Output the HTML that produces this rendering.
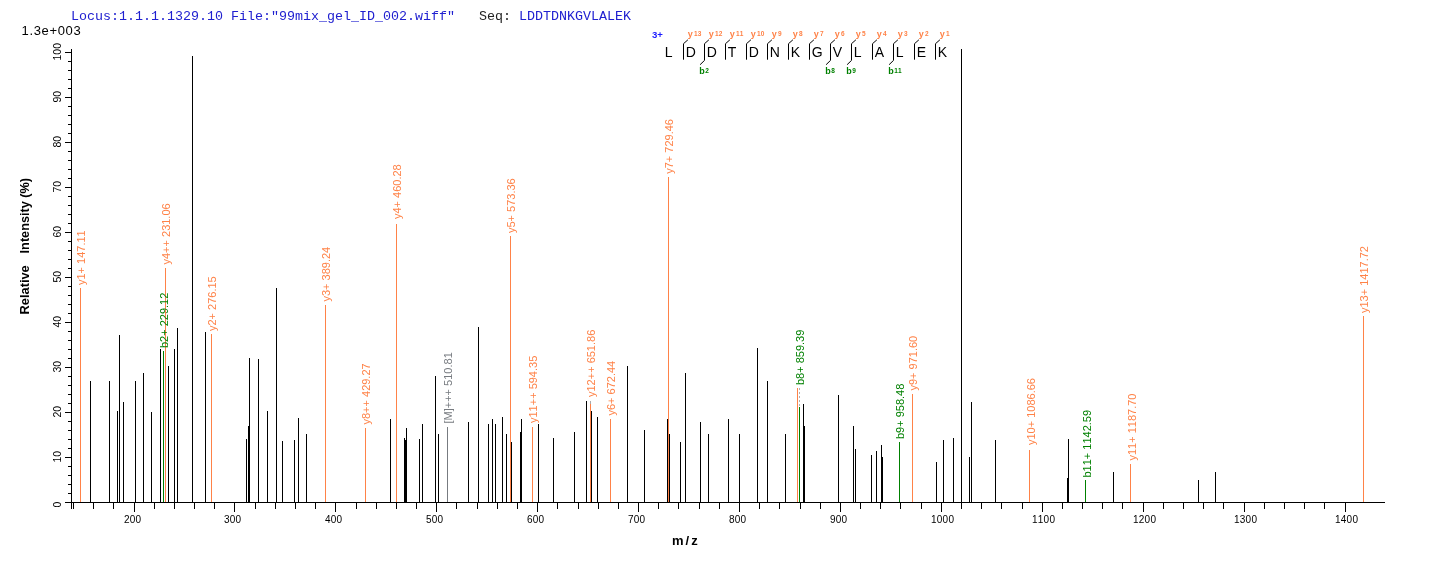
<!DOCTYPE html>
<html lang="en"><head><meta charset="utf-8"><title>Spectrum</title>
<style>html,body{margin:0;padding:0;background:#fff;overflow:hidden}svg{display:block}text{font-family:"Liberation Sans",Arial,sans-serif;font-kerning:none}.mono{font-family:"Liberation Mono","Courier New",monospace;font-size:13.333px}.pk rect{shape-rendering:crispEdges}.ax{shape-rendering:crispEdges}.lb text{font-size:11px}.xt text{font-size:10px;letter-spacing:0.3px}.yt text{font-size:10.5px;text-anchor:middle}.aa text{font-size:14px}.yi text{font-size:9px;font-weight:bold;fill:#ff8247}.bi text{font-size:9px;font-weight:bold;fill:#008000}.yi tspan,.bi tspan{font-size:6.5px}</style></head><body>
<svg width="1436" height="562" viewBox="0 0 1436 562">
<rect width="1436" height="562" fill="#fff"/>
<text class="mono" x="71" y="19.5" fill="#2020d0" xml:space="preserve">Locus:1.1.1.1329.10 File:"99mix_gel_ID_002.wiff"   <tspan fill="#222">Seq:</tspan> LDDTDNKGVLALEK</text>
<text x="21.5" y="35" font-size="13px" letter-spacing="0.65">1.3e+003</text>
<g class="pk" fill="#000">
<rect x="90" y="381" width="1" height="121"/>
<rect x="109" y="381" width="1" height="121"/>
<rect x="117" y="411" width="1" height="91"/>
<rect x="119" y="335" width="1" height="167"/>
<rect x="123" y="402" width="1" height="100"/>
<rect x="135" y="381" width="1" height="121"/>
<rect x="143" y="373" width="1" height="129"/>
<rect x="151" y="412" width="1" height="90"/>
<rect x="160" y="349" width="1" height="153"/>
<rect x="168" y="366" width="1" height="136"/>
<rect x="174" y="349" width="1" height="153"/>
<rect x="177" y="328" width="1" height="174"/>
<rect x="192" y="56" width="1" height="446"/>
<rect x="205" y="332" width="1" height="170"/>
<rect x="246" y="439" width="1" height="63"/>
<rect x="248" y="426" width="1" height="76"/>
<rect x="249" y="358" width="1" height="144"/>
<rect x="258" y="359" width="1" height="143"/>
<rect x="267" y="411" width="1" height="91"/>
<rect x="276" y="288" width="1" height="214"/>
<rect x="282" y="441" width="1" height="61"/>
<rect x="294" y="440" width="1" height="62"/>
<rect x="298" y="418" width="1" height="84"/>
<rect x="306" y="434" width="1" height="68"/>
<rect x="390" y="419" width="1" height="83"/>
<rect x="404" y="438" width="1" height="64"/>
<rect x="405" y="440" width="1" height="62"/>
<rect x="406" y="428" width="1" height="74"/>
<rect x="419" y="439" width="1" height="63"/>
<rect x="422" y="424" width="1" height="78"/>
<rect x="435" y="376" width="1" height="126"/>
<rect x="438" y="434" width="1" height="68"/>
<rect x="468" y="422" width="1" height="80"/>
<rect x="478" y="327" width="1" height="175"/>
<rect x="488" y="424" width="1" height="78"/>
<rect x="492" y="419" width="1" height="83"/>
<rect x="495" y="424" width="1" height="78"/>
<rect x="502" y="417" width="1" height="85"/>
<rect x="506" y="434" width="1" height="68"/>
<rect x="511" y="442" width="1" height="60"/>
<rect x="520" y="432" width="1" height="70"/>
<rect x="521" y="419" width="1" height="83"/>
<rect x="538" y="424" width="1" height="78"/>
<rect x="553" y="438" width="1" height="64"/>
<rect x="574" y="432" width="1" height="70"/>
<rect x="586" y="401" width="1" height="101"/>
<rect x="591" y="411" width="1" height="91"/>
<rect x="597" y="417" width="1" height="85"/>
<rect x="627" y="366" width="1" height="136"/>
<rect x="644" y="430" width="1" height="72"/>
<rect x="667" y="419" width="1" height="83"/>
<rect x="669" y="434" width="1" height="68"/>
<rect x="680" y="442" width="1" height="60"/>
<rect x="685" y="373" width="1" height="129"/>
<rect x="700" y="422" width="1" height="80"/>
<rect x="708" y="434" width="1" height="68"/>
<rect x="728" y="419" width="1" height="83"/>
<rect x="739" y="434" width="1" height="68"/>
<rect x="757" y="348" width="1" height="154"/>
<rect x="767" y="381" width="1" height="121"/>
<rect x="785" y="434" width="1" height="68"/>
<rect x="803" y="404" width="1" height="98"/>
<rect x="804" y="426" width="1" height="76"/>
<rect x="838" y="395" width="1" height="107"/>
<rect x="853" y="426" width="1" height="76"/>
<rect x="855" y="449" width="1" height="53"/>
<rect x="871" y="455" width="1" height="47"/>
<rect x="876" y="451" width="1" height="51"/>
<rect x="881" y="445" width="1" height="57"/>
<rect x="882" y="457" width="1" height="45"/>
<rect x="936" y="462" width="1" height="40"/>
<rect x="943" y="440" width="1" height="62"/>
<rect x="953" y="438" width="1" height="64"/>
<rect x="961" y="49" width="1" height="453"/>
<rect x="969" y="457" width="1" height="45"/>
<rect x="971" y="402" width="1" height="100"/>
<rect x="995" y="440" width="1" height="62"/>
<rect x="1067" y="478" width="1" height="24"/>
<rect x="1068" y="439" width="1" height="63"/>
<rect x="1113" y="472" width="1" height="30"/>
<rect x="1198" y="480" width="1" height="22"/>
<rect x="1215" y="472" width="1" height="30"/>
</g>
<g class="pk" fill="#777b80">
<rect x="447" y="427" width="1" height="75"/>
</g>
<g class="pk" fill="#008000">
<rect x="163" y="351" width="1" height="151"/>
<rect x="799" y="407" width="1" height="95"/>
<rect x="899" y="442" width="1" height="60"/>
<rect x="1085" y="480" width="1" height="22"/>
</g>
<g class="pk" fill="#ff8247">
<rect x="80" y="288" width="1" height="214"/>
<rect x="165" y="268" width="1" height="234"/>
<rect x="211" y="334" width="1" height="168"/>
<rect x="325" y="305" width="1" height="197"/>
<rect x="365" y="428" width="1" height="74"/>
<rect x="396" y="224" width="1" height="278"/>
<rect x="510" y="236" width="1" height="266"/>
<rect x="532" y="427" width="1" height="75"/>
<rect x="590" y="404" width="1" height="98"/>
<rect x="610" y="419" width="1" height="83"/>
<rect x="668" y="177" width="1" height="325"/>
<rect x="797" y="388" width="1" height="114"/>
<rect x="912" y="394" width="1" height="108"/>
<rect x="1029" y="450" width="1" height="52"/>
<rect x="1130" y="464" width="1" height="38"/>
<rect x="1363" y="316" width="1" height="186"/>
</g>
<rect x="590" y="401" width="1" height="3" fill="#aaa" class="ax"/>
<line x1="799.5" y1="388" x2="799.5" y2="407" stroke="#b0b0b0" stroke-width="1" stroke-dasharray="2,2" class="ax"/>
<g class="ax" fill="#000">
<rect x="65" y="502" width="1320" height="1"/>
<rect x="71" y="49" width="1" height="454"/>
<rect x="65" y="502" width="6" height="1"/>
<rect x="68" y="493" width="3" height="1"/>
<rect x="68" y="484" width="3" height="1"/>
<rect x="68" y="475" width="3" height="1"/>
<rect x="68" y="466" width="3" height="1"/>
<rect x="65" y="457" width="6" height="1"/>
<rect x="68" y="448" width="3" height="1"/>
<rect x="68" y="439" width="3" height="1"/>
<rect x="68" y="430" width="3" height="1"/>
<rect x="68" y="421" width="3" height="1"/>
<rect x="65" y="412" width="6" height="1"/>
<rect x="68" y="403" width="3" height="1"/>
<rect x="68" y="394" width="3" height="1"/>
<rect x="68" y="385" width="3" height="1"/>
<rect x="68" y="376" width="3" height="1"/>
<rect x="65" y="367" width="6" height="1"/>
<rect x="68" y="358" width="3" height="1"/>
<rect x="68" y="349" width="3" height="1"/>
<rect x="68" y="340" width="3" height="1"/>
<rect x="68" y="331" width="3" height="1"/>
<rect x="65" y="322" width="6" height="1"/>
<rect x="68" y="313" width="3" height="1"/>
<rect x="68" y="304" width="3" height="1"/>
<rect x="68" y="295" width="3" height="1"/>
<rect x="68" y="286" width="3" height="1"/>
<rect x="65" y="277" width="6" height="1"/>
<rect x="68" y="268" width="3" height="1"/>
<rect x="68" y="259" width="3" height="1"/>
<rect x="68" y="250" width="3" height="1"/>
<rect x="68" y="241" width="3" height="1"/>
<rect x="65" y="232" width="6" height="1"/>
<rect x="68" y="223" width="3" height="1"/>
<rect x="68" y="214" width="3" height="1"/>
<rect x="68" y="205" width="3" height="1"/>
<rect x="68" y="196" width="3" height="1"/>
<rect x="65" y="187" width="6" height="1"/>
<rect x="68" y="178" width="3" height="1"/>
<rect x="68" y="169" width="3" height="1"/>
<rect x="68" y="160" width="3" height="1"/>
<rect x="68" y="151" width="3" height="1"/>
<rect x="65" y="142" width="6" height="1"/>
<rect x="68" y="133" width="3" height="1"/>
<rect x="68" y="124" width="3" height="1"/>
<rect x="68" y="115" width="3" height="1"/>
<rect x="68" y="106" width="3" height="1"/>
<rect x="65" y="97" width="6" height="1"/>
<rect x="68" y="88" width="3" height="1"/>
<rect x="68" y="79" width="3" height="1"/>
<rect x="68" y="70" width="3" height="1"/>
<rect x="68" y="61" width="3" height="1"/>
<rect x="65" y="52" width="6" height="1"/>
<rect x="71" y="502" width="1" height="7"/>
<rect x="73" y="502" width="1" height="7"/>
<rect x="93" y="502" width="1" height="7"/>
<rect x="113" y="502" width="1" height="7"/>
<rect x="134" y="502" width="1" height="10"/>
<rect x="154" y="502" width="1" height="7"/>
<rect x="174" y="502" width="1" height="7"/>
<rect x="194" y="502" width="1" height="7"/>
<rect x="214" y="502" width="1" height="7"/>
<rect x="234" y="502" width="1" height="10"/>
<rect x="255" y="502" width="1" height="7"/>
<rect x="275" y="502" width="1" height="7"/>
<rect x="295" y="502" width="1" height="7"/>
<rect x="315" y="502" width="1" height="7"/>
<rect x="335" y="502" width="1" height="10"/>
<rect x="356" y="502" width="1" height="7"/>
<rect x="376" y="502" width="1" height="7"/>
<rect x="396" y="502" width="1" height="7"/>
<rect x="416" y="502" width="1" height="7"/>
<rect x="436" y="502" width="1" height="10"/>
<rect x="456" y="502" width="1" height="7"/>
<rect x="477" y="502" width="1" height="7"/>
<rect x="497" y="502" width="1" height="7"/>
<rect x="517" y="502" width="1" height="7"/>
<rect x="537" y="502" width="1" height="10"/>
<rect x="557" y="502" width="1" height="7"/>
<rect x="578" y="502" width="1" height="7"/>
<rect x="598" y="502" width="1" height="7"/>
<rect x="618" y="502" width="1" height="7"/>
<rect x="638" y="502" width="1" height="10"/>
<rect x="658" y="502" width="1" height="7"/>
<rect x="678" y="502" width="1" height="7"/>
<rect x="699" y="502" width="1" height="7"/>
<rect x="719" y="502" width="1" height="7"/>
<rect x="739" y="502" width="1" height="10"/>
<rect x="759" y="502" width="1" height="7"/>
<rect x="779" y="502" width="1" height="7"/>
<rect x="800" y="502" width="1" height="7"/>
<rect x="820" y="502" width="1" height="7"/>
<rect x="840" y="502" width="1" height="10"/>
<rect x="860" y="502" width="1" height="7"/>
<rect x="880" y="502" width="1" height="7"/>
<rect x="900" y="502" width="1" height="7"/>
<rect x="921" y="502" width="1" height="7"/>
<rect x="941" y="502" width="1" height="10"/>
<rect x="961" y="502" width="1" height="7"/>
<rect x="981" y="502" width="1" height="7"/>
<rect x="1001" y="502" width="1" height="7"/>
<rect x="1022" y="502" width="1" height="7"/>
<rect x="1042" y="502" width="1" height="10"/>
<rect x="1062" y="502" width="1" height="7"/>
<rect x="1082" y="502" width="1" height="7"/>
<rect x="1102" y="502" width="1" height="7"/>
<rect x="1122" y="502" width="1" height="7"/>
<rect x="1143" y="502" width="1" height="10"/>
<rect x="1163" y="502" width="1" height="7"/>
<rect x="1183" y="502" width="1" height="7"/>
<rect x="1203" y="502" width="1" height="7"/>
<rect x="1223" y="502" width="1" height="7"/>
<rect x="1244" y="502" width="1" height="10"/>
<rect x="1264" y="502" width="1" height="7"/>
<rect x="1284" y="502" width="1" height="7"/>
<rect x="1304" y="502" width="1" height="7"/>
<rect x="1324" y="502" width="1" height="7"/>
<rect x="1345" y="502" width="1" height="10"/>
</g>
<g class="xt">
<text x="123.9" y="522.6">200</text>
<text x="223.9" y="522.6">300</text>
<text x="324.9" y="522.6">400</text>
<text x="425.9" y="522.6">500</text>
<text x="526.9" y="522.6">600</text>
<text x="627.9" y="522.6">700</text>
<text x="728.9" y="522.6">800</text>
<text x="829.9" y="522.6">900</text>
<text x="930.9" y="522.6">1000</text>
<text x="1031.9" y="522.6">1100</text>
<text x="1132.9" y="522.6">1200</text>
<text x="1233.9" y="522.6">1300</text>
<text x="1334.9" y="522.6">1400</text>
</g>
<g class="yt">
<text transform="translate(60.8,504.5) rotate(-90)">0</text>
<text transform="translate(60.8,456.7) rotate(-90)">10</text>
<text transform="translate(60.8,411.7) rotate(-90)">20</text>
<text transform="translate(60.8,366.7) rotate(-90)">30</text>
<text transform="translate(60.8,321.7) rotate(-90)">40</text>
<text transform="translate(60.8,276.7) rotate(-90)">50</text>
<text transform="translate(60.8,231.7) rotate(-90)">60</text>
<text transform="translate(60.8,186.7) rotate(-90)">70</text>
<text transform="translate(60.8,141.7) rotate(-90)">80</text>
<text transform="translate(60.8,96.7) rotate(-90)">90</text>
<text transform="translate(60.8,51.7) rotate(-90)">100</text>
</g>
<text transform="translate(28.6,314.4) rotate(-90)" font-size="12.8px" font-weight="bold">Relative</text>
<text transform="translate(28.6,253.4) rotate(-90)" font-size="12.7px" font-weight="bold">Intensity (%)</text>
<text x="672" y="544.5" font-size="13px" font-weight="bold" letter-spacing="2">m/z</text>
<g class="lb">
<text transform="translate(85.3,285.0) rotate(-90)" fill="#ff8247">y1+ 147.11</text>
<text transform="translate(168.3,348.0) rotate(-90)" fill="#008000">b2+ 229.12</text>
<text transform="translate(170.3,264.5) rotate(-90)" fill="#ff8247">y4++ 231.06</text>
<text transform="translate(216.3,331.0) rotate(-90)" fill="#ff8247">y2+ 276.15</text>
<text transform="translate(330.3,301.5) rotate(-90)" fill="#ff8247">y3+ 389.24</text>
<text transform="translate(370.3,424.5) rotate(-90)" fill="#ff8247">y8++ 429.27</text>
<text transform="translate(401.3,219.0) rotate(-90)" fill="#ff8247">y4+ 460.28</text>
<text transform="translate(452.3,423.5) rotate(-90)" fill="#777b80">[M]+++ 510.81</text>
<text transform="translate(515.3,233.0) rotate(-90)" fill="#ff8247">y5+ 573.36</text>
<text transform="translate(537.3,423.0) rotate(-90)" fill="#ff8247">y11++ 594.35</text>
<text transform="translate(595.3,397.0) rotate(-90)" fill="#ff8247">y12++ 651.86</text>
<text transform="translate(615.3,415.5) rotate(-90)" fill="#ff8247">y6+ 672.44</text>
<text transform="translate(673.3,173.8) rotate(-90)" fill="#ff8247">y7+ 729.46</text>
<text transform="translate(804.3,385.0) rotate(-90)" fill="#008000">b8+ 859.39</text>
<text transform="translate(904.3,439.0) rotate(-90)" fill="#008000">b9+ 958.48</text>
<text transform="translate(917.3,390.5) rotate(-90)" fill="#ff8247">y9+ 971.60</text>
<text transform="translate(1035.3,445.0) rotate(-90)" fill="#ff8247">y10+ 1086.66</text>
<text transform="translate(1090.5,477.5) rotate(-90)" fill="#008000">b11+ 1142.59</text>
<text transform="translate(1136.0,460.5) rotate(-90)" fill="#ff8247">y11+ 1187.70</text>
<text transform="translate(1368.3,313.0) rotate(-90)" fill="#ff8247">y13+ 1417.72</text>
</g>
<text x="652" y="37.5" font-size="9.6px" font-weight="bold" fill="#1a1aff">3+</text>
<g class="aa">
<text x="664.7" y="57">L</text>
<text x="685.7" y="57">D</text>
<text x="706.7" y="57">D</text>
<text x="727.7" y="57">T</text>
<text x="748.7" y="57">D</text>
<text x="769.7" y="57">N</text>
<text x="790.7" y="57">K</text>
<text x="811.7" y="57">G</text>
<text x="832.7" y="57">V</text>
<text x="853.7" y="57">L</text>
<text x="874.7" y="57">A</text>
<text x="895.7" y="57">L</text>
<text x="916.7" y="57">E</text>
<text x="937.7" y="57">K</text>
</g>
<g fill="none" stroke="#000" stroke-width="1">
<path d="M687.9 39.8 L683.5 43.7 L683.5 59.7"/>
<path d="M708.9 39.8 L704.5 43.7 L704.5 60.4 L700.1 64.7"/>
<path d="M729.9 39.8 L725.5 43.7 L725.5 59.7"/>
<path d="M750.9 39.8 L746.5 43.7 L746.5 59.7"/>
<path d="M771.9 39.8 L767.5 43.7 L767.5 59.7"/>
<path d="M792.9 39.8 L788.5 43.7 L788.5 59.7"/>
<path d="M813.9 39.8 L809.5 43.7 L809.5 59.7"/>
<path d="M834.9 39.8 L830.5 43.7 L830.5 60.4 L826.1 64.7"/>
<path d="M855.9 39.8 L851.5 43.7 L851.5 60.4 L847.1 64.7"/>
<path d="M876.9 39.8 L872.5 43.7 L872.5 59.7"/>
<path d="M897.9 39.8 L893.5 43.7 L893.5 60.4 L889.1 64.7"/>
<path d="M918.9 39.8 L914.5 43.7 L914.5 59.7"/>
<path d="M939.9 39.8 L935.5 43.7 L935.5 59.7"/>
</g>
<g class="yi">
<text x="687.8" y="37">y<tspan dx="1.2" dy="-1.2">13</tspan></text>
<text x="708.8" y="37">y<tspan dx="1.2" dy="-1.2">12</tspan></text>
<text x="729.8" y="37">y<tspan dx="1.2" dy="-1.2">11</tspan></text>
<text x="750.8" y="37">y<tspan dx="1.2" dy="-1.2">10</tspan></text>
<text x="771.8" y="37">y<tspan dx="1.2" dy="-1.2">9</tspan></text>
<text x="792.8" y="37">y<tspan dx="1.2" dy="-1.2">8</tspan></text>
<text x="813.8" y="37">y<tspan dx="1.2" dy="-1.2">7</tspan></text>
<text x="834.8" y="37">y<tspan dx="1.2" dy="-1.2">6</tspan></text>
<text x="855.8" y="37">y<tspan dx="1.2" dy="-1.2">5</tspan></text>
<text x="876.8" y="37">y<tspan dx="1.2" dy="-1.2">4</tspan></text>
<text x="897.8" y="37">y<tspan dx="1.2" dy="-1.2">3</tspan></text>
<text x="918.8" y="37">y<tspan dx="1.2" dy="-1.2">2</tspan></text>
<text x="939.8" y="37">y<tspan dx="1.2" dy="-1.2">1</tspan></text>
</g>
<g class="bi">
<text x="699.2" y="73.8">b<tspan dx="0.6" dy="-1.2">2</tspan></text>
<text x="825.2" y="73.8">b<tspan dx="0.6" dy="-1.2">8</tspan></text>
<text x="846.2" y="73.8">b<tspan dx="0.6" dy="-1.2">9</tspan></text>
<text x="888.2" y="73.8">b<tspan dx="0.6" dy="-1.2">11</tspan></text>
</g>
</svg></body></html>
